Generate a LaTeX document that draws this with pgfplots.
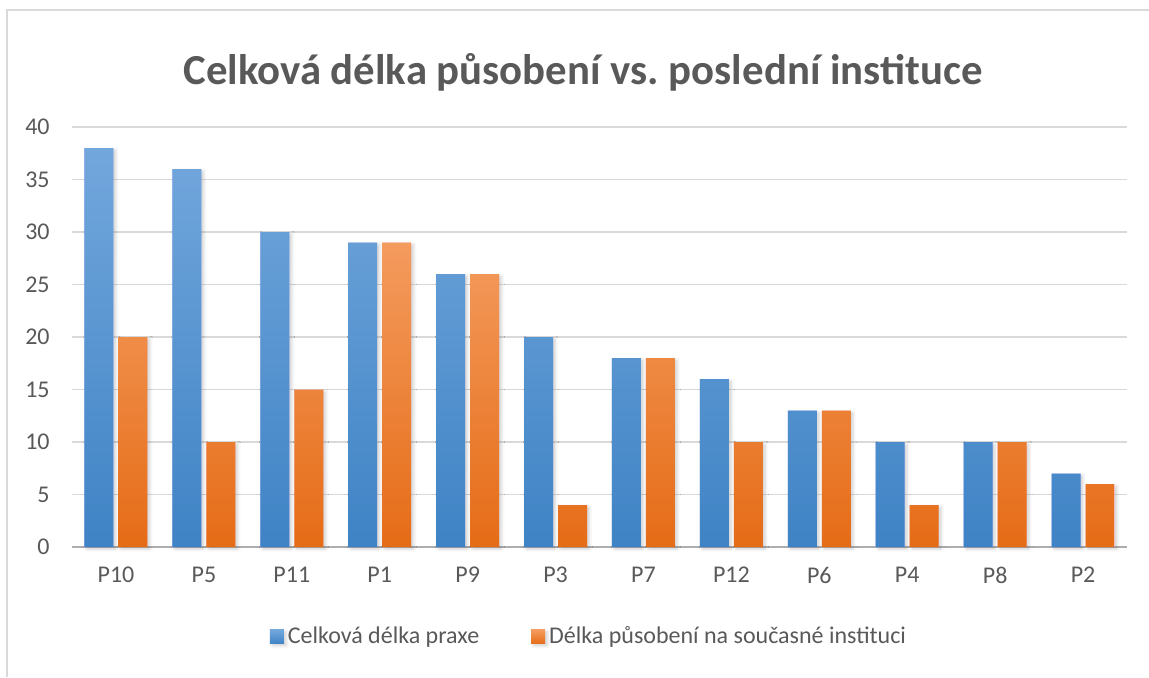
\documentclass[border=0pt]{standalone}
\usepackage{pgfplots}
\pgfplotsset{compat=1.18}
\usepackage{fontspec}
\setmainfont{Carlito}
\usetikzlibrary{shadows.blur}
\frenchspacing
\definecolor{txt}{HTML}{595959}
\definecolor{gridc}{HTML}{D9D9D9}
\definecolor{btop}{HTML}{72A7DC}
\definecolor{bbot}{HTML}{3F83C5}
\definecolor{otop}{HTML}{F49B5E}
\definecolor{obot}{HTML}{E56C17}
\begin{document}
\begin{tikzpicture}
\useasboundingbox (0,0) rectangle (574.5pt,338.5pt);
\draw[gridc, line width=0.8pt] (3.5pt,0) -- (3.5pt,333.5pt) -- (574.5pt,333.5pt);
\node[anchor=base, text=txt, font=\fontsize{21.4}{25}\selectfont\bfseries] at (291.5pt,296.5pt) {Celková délka působení vs. poslední instituce};
\begin{axis}[
  at={(36pt,65pt)}, anchor=south west,
  scale only axis, width=527.5pt, height=210pt,
  ymin=0, ymax=40, ytick={0,5,...,40},
  xmin=-0.5, xmax=11.5, xtick={0,...,11},
  xticklabels={P10,P5,P11,P1,P9,P3,P7,P12,P6,P4,P8,P2},
  ybar, bar width=14.5pt,
  ymajorgrids, major grid style={gridc, line width=0.8pt},
  axis x line*=bottom, axis y line*=left,
  x axis line style={draw=gridc!80!black, line width=0.8pt},
  y axis line style={draw=none},
  major tick length=0pt,
  tick label style={text=txt, font=\fontsize{12}{14}\selectfont, inner sep=0pt},
  yticklabel style={xshift=-11pt},
  xticklabel style={yshift=-10pt},
  /pgf/number format/assume math mode=true,
  legend style={at={(0.491,-0.214)}, anchor=center, draw=none, fill=none,
    legend columns=2, font=\fontsize{12}{14}\selectfont, text=txt,
    /tikz/every even column/.append style={column sep=24pt}},
  legend cell align=left,
  clip=false,
]
\addplot+[bar shift=-8.5pt, draw=none, top color=btop, bottom color=bbot,
  blur shadow={shadow xshift=1.2pt, shadow yshift=-1pt, shadow blur radius=1.5pt, shadow opacity=18},
  legend image code/.code={\fill[btop!60!bbot] (0pt,-3.5pt) rectangle (7pt,3.5pt);}]
  coordinates {(0,38) (1,36) (2,30) (3,29) (4,26) (5,20) (6,18) (7,16) (8,13) (9,10) (10,10) (11,7)};
\addplot+[bar shift=8.5pt, draw=none, top color=otop, bottom color=obot,
  blur shadow={shadow xshift=1.2pt, shadow yshift=-1pt, shadow blur radius=1.5pt, shadow opacity=18},
  legend image code/.code={\fill[otop!50!obot] (0pt,-3.5pt) rectangle (7pt,3.5pt);}]
  coordinates {(0,20) (1,10) (2,15) (3,29) (4,26) (5,4) (6,18) (7,10) (8,13) (9,4) (10,10) (11,6)};
\legend{Celková délka praxe, Délka působení na současné instituci}
\end{axis}
\end{tikzpicture}
\end{document}
